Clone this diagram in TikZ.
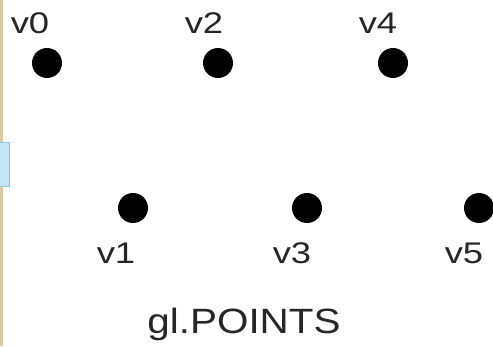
\documentclass[tikz,border=0pt]{standalone}
\usepackage{fontspec}
\setmainfont{Liberation Sans}
\usepackage{xcolor}
\definecolor{Tan}{HTML}{D9C9A6}
\definecolor{Sky}{HTML}{C4E6F4}
\definecolor{SkyEdge}{HTML}{86C6DE}
\begin{document}
\begin{tikzpicture}[x=0.02cm, y=-0.02cm,
    dot/.style={circle, fill=black, inner sep=0pt, minimum size=0.6cm},
    vlabel/.style={anchor=base, inner sep=0pt, font=\fontsize{17}{19}\selectfont, xscale=1.22, text=black!85},
    caption/.style={anchor=base, inner sep=0pt, font=\fontsize{20}{22}\selectfont, xscale=1.15, text=black!85}
  ]
    \useasboundingbox (0,0) rectangle (493,346);
    \fill[white] (0,0) rectangle (493,346);
    \fill[Tan] (0,0) rectangle (3,346);
    \draw[SkyEdge, fill=Sky] (-1,142) rectangle (9,186);

    \node[dot] (v0) at (47,63) {};
    \node[dot] (v2) at (218,63) {};
    \node[dot] (v4) at (393,63) {};
    \node[dot] (v1) at (133,208) {};
    \node[dot] (v3) at (307,208) {};
    \node[dot] (v5) at (479,208) {};

    \node[vlabel] (l0) at (30,33) {v0};
    \node[vlabel] (l2) at (204,33) {v2};
    \node[vlabel] (l4) at (378,33) {v4};
    \node[vlabel] (l1) at (116,263) {v1};
    \node[vlabel] (l3) at (292,263) {v3};
    \node[vlabel] (l5) at (464,263) {v5};

    \node[caption] (mode) at (244,333) {gl.POINTS};
  \end{tikzpicture}
\end{document}
